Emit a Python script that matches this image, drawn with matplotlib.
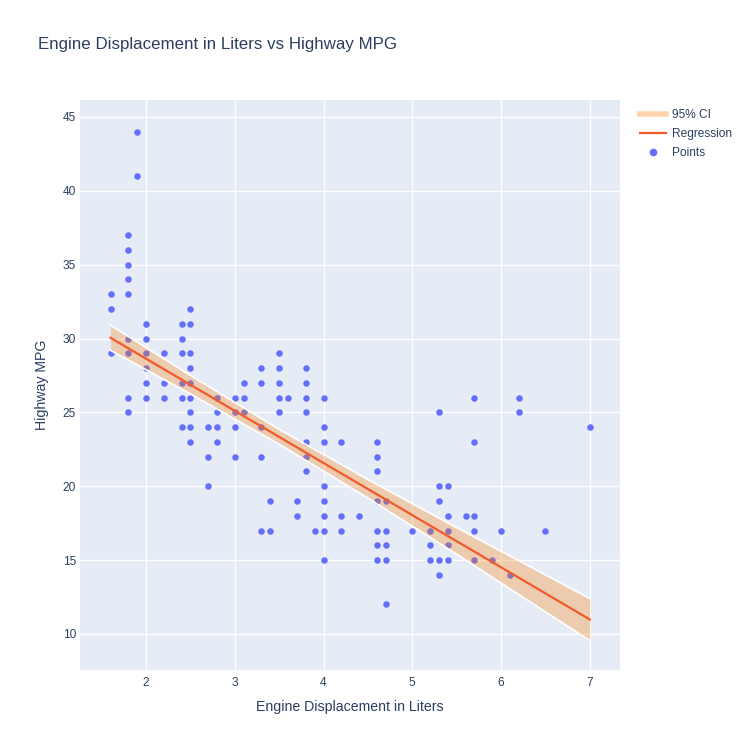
import matplotlib
matplotlib.use("Agg")
import matplotlib.pyplot as plt
from matplotlib.lines import Line2D

plt.rcParams['font.family'] = ['Liberation Sans', 'DejaVu Sans']

# engine displacement (litres) and highway mpg
displ = [1.6] * 3 + [1.8] * 9 + [1.9] * 2 + [2.0] * 6 + [2.2] * 3 + [2.4] * 6 \
    + [2.5] * 9 + [2.7] * 3 + [2.8] * 4 + [3.0] * 4 + [3.1] * 3 + [3.3] * 5 \
    + [3.4] * 2 + [3.5] * 5 + [3.6] + [3.7] * 2 + [3.8] * 7 + [3.9] + [4.0] * 8 \
    + [4.2] * 3 + [4.4] + [4.6] * 7 + [4.7] * 5 + [5.0] + [5.2] * 3 + [5.3] * 5 \
    + [5.4] * 5 + [5.6] + [5.7] * 5 + [5.9] + [6.0] + [6.1] + [6.2] * 2 + [6.5] + [7.0]
hwy = [33, 32, 29,
       37, 36, 35, 34, 33, 30, 29, 26, 25,
       44, 41,
       31, 30, 29, 28, 27, 26,
       29, 27, 26,
       31, 30, 29, 27, 26, 24,
       32, 31, 29, 28, 27, 26, 25, 24, 23,
       24, 22, 20,
       26, 25, 24, 23,
       26, 25, 24, 22,
       27, 26, 25,
       28, 27, 24, 22, 17,
       19, 17,
       29, 28, 27, 26, 25,
       26,
       19, 18,
       28, 27, 26, 25, 23, 22, 21,
       17,
       26, 24, 23, 20, 19, 18, 17, 15,
       23, 18, 17,
       18,
       23, 22, 21, 19, 17, 16, 15,
       19, 17, 16, 15, 12,
       17,
       17, 16, 15,
       25, 20, 19, 15, 14,
       20, 18, 17, 16, 15,
       18,
       26, 23, 18, 17, 15,
       15,
       17,
       14,
       26, 25,
       17,
       24]

# regression line and 95% band, read at a few x positions
fit_x = [1.6, 2.5, 3.5, 4.5, 5.5, 7.0]
fit_y = [30.05, 26.87, 23.34, 19.81, 16.28, 10.98]
ci_lo = [29.2, 26.25, 22.85, 19.2, 15.4, 9.55]
ci_hi = [30.9, 27.5, 23.85, 20.45, 17.2, 12.4]

text_col = '#2a3f5f'
pt_col = '#636EFA'
line_col = '#F25A2A'

fig = plt.figure(figsize=(7.5, 7.5), dpi=100)
ax = fig.add_axes([80 / 750, 80 / 750, 540 / 750, 570 / 750])
ax.set_facecolor('#E5ECF6')

ax.scatter(displ, hwy, s=22, color=pt_col, linewidths=0, zorder=2)
ax.fill_between(fit_x, ci_lo, ci_hi, color=(1.0, 0.5, 0.05, 0.3), linewidth=0, zorder=3)
ax.plot(fit_x, ci_lo, color='white', lw=1.2, zorder=3)
ax.plot(fit_x, ci_hi, color='white', lw=1.2, zorder=3)
ax.plot(fit_x, fit_y, color=line_col, lw=1.6, zorder=4)

ax.set_xlim(1.256, 7.34)
ax.set_ylim(7.56, 46.15)
ax.set_xticks([2, 3, 4, 5, 6, 7])
ax.set_yticks([10, 15, 20, 25, 30, 35, 40, 45])
ax.grid(color='white', lw=1)
ax.set_axisbelow(True)
for s in ax.spines.values():
    s.set_visible(False)
ax.tick_params(length=0, labelsize=8.6, labelcolor=text_col)
ax.tick_params(axis='y', pad=3)
ax.tick_params(axis='x', pad=5)

ax.set_xlabel('Engine Displacement in Liters', fontsize=10.2, color=text_col, labelpad=8)
ax.set_ylabel('Highway MPG', fontsize=10.2, color=text_col, labelpad=10)

fig.text(38 / 750, 1 - 44 / 750, 'Engine Displacement in Liters vs Highway MPG',
         fontsize=12.15, color=text_col, va='center', ha='left')

handles = [
    Line2D([], [], color='#FFD4AA', lw=4),
    Line2D([], [], color=line_col, lw=1.6),
    Line2D([], [], color=pt_col, marker='o', ls='', markersize=4.5),
]
fig.legend(handles, ['95% CI', 'Regression', 'Points'], loc='upper left',
           bbox_to_anchor=(640 / 750, 1 - 109 / 750), frameon=False,
           fontsize=8.6, labelcolor=text_col, handlelength=2.2,
           handletextpad=0.45, labelspacing=0.6, borderaxespad=0, borderpad=0)

fig.savefig('out.png', dpi=100)
